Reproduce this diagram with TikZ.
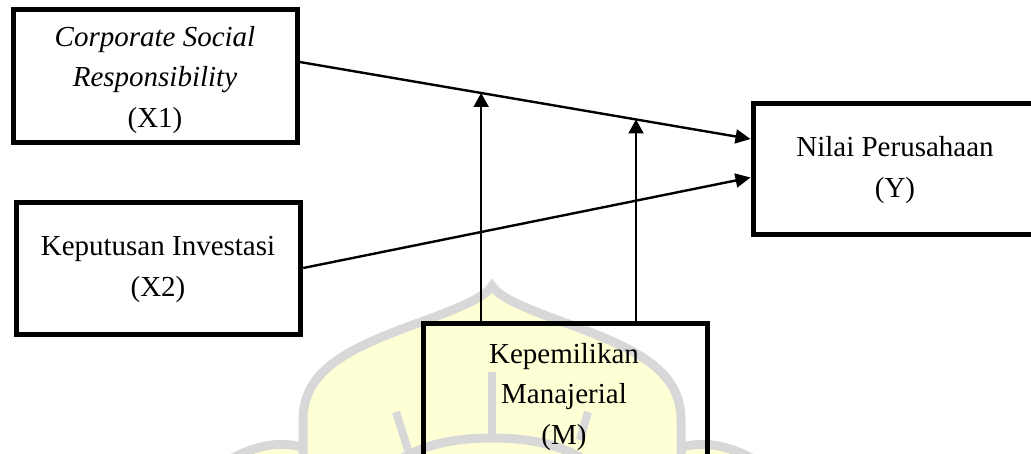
\documentclass[tikz,border=0pt]{standalone}
\usepackage{fontspec}
\setmainfont{Liberation Serif}
\usetikzlibrary{arrows.meta,calc}
\definecolor{wmyellow}{RGB}{255,255,214}
\definecolor{wmgray}{RGB}{216,216,216}
\begin{document}
\begin{tikzpicture}[x=1pt,y=-1pt,
  box/.style={draw, line width=5pt, minimum width=284pt, inner sep=0pt},
  lbl/.style={font=\fontsize{29}{40.5}\selectfont, align=center, inner sep=0pt},
  conn/.style={line width=2.4pt, -{Triangle[length=15pt,width=14pt]}},
  modarr/.style={line width=2pt, -{Triangle[length=14pt,width=15pt]}},
  wm/.style={draw=wmgray, line width=9pt}]
\useasboundingbox (0,0) rectangle (1031,454);
\clip (0,0) rectangle (1031,454);
% watermark
\fill[wmyellow] (303,470) -- (303,420) .. controls (303,372) and (345,350) .. (410,326) .. controls (460,308) and (484,298) .. (492,286) .. controls (500,298) and (524,308) .. (574,326) .. controls (639,350) and (681,372) .. (681,420) -- (681,470) -- cycle;
\fill[wmyellow] (215,470) .. controls (240,450) and (275,438) .. (305,448) -- (305,470) -- cycle;
\fill[wmyellow] (769,470) .. controls (744,450) and (709,438) .. (679,448) -- (679,470) -- cycle;
\draw[wm] (303,470) -- (303,420) .. controls (303,372) and (345,350) .. (410,326) .. controls (460,308) and (484,298) .. (492,286) .. controls (500,298) and (524,308) .. (574,326) .. controls (639,350) and (681,372) .. (681,420) -- (681,470);
\draw[wm] (215,470) .. controls (240,450) and (275,438) .. (305,448);
\draw[wm] (769,470) .. controls (744,450) and (709,438) .. (679,448);
\draw[wm] (380,475) .. controls (410,446) and (450,438) .. (492,438) .. controls (534,438) and (574,446) .. (604,475);
\draw[wm, line width=8pt] (492,372) -- (492,438);
\draw[wm, line width=8pt] (396,412) -- (408,450);
\draw[wm, line width=8pt] (588,412) -- (580,440);
% boxes
\node[box, minimum height=133pt] (X1) at (155.25,76) {};
\node[box, minimum height=132pt] (X2) at (158.75,269) {};
\node[box, minimum height=131pt] (Y) at (895,169.5) {};
\node[box, minimum height=200pt] (M) at (565,424) {};
% labels
\node[lbl] (tX1) at (155,80) {\textit{Corporate Social}\\\textit{Responsibility}\\(X1)};
\node[lbl] (tX2) at (158,269.5) {Keputusan Investasi\\(X2)};
\node[lbl] (tY) at (895,170) {Nilai Perusahaan\\(Y)};
\node[lbl, anchor=north] (tM) at (564,343) {Kepemilikan\\Manajerial\\(M)};
% connectors
\draw[conn] ($(X1.east)+(0,-14)$) -- coordinate[pos=0.4024] (m1) coordinate[pos=0.746] (m2) ($(Y.west)+(0,-30.5)$);
\draw[conn] ($(X2.east)+(0,-1)$) -- ($(Y.west)+(0,8)$);
\draw[modarr] (M.north -| m1) -- (m1);
\draw[modarr] (M.north -| m2) -- (m2);
\end{tikzpicture}
\end{document}
